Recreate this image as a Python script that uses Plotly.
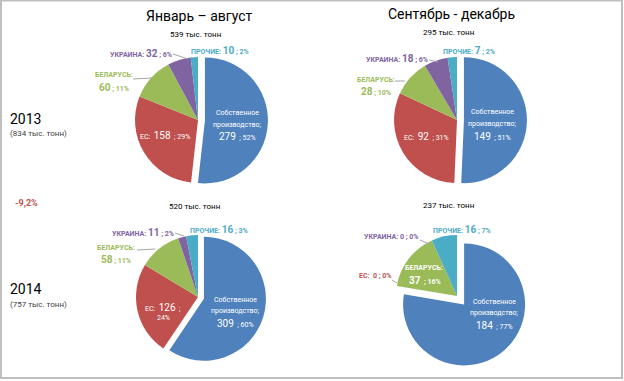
import plotly.graph_objects as go

# ---------------- data ----------------
categories = ["Собственное производство", "ЕС", "Беларусь", "Украина", "Прочие"]
label_names = ["Собственное производство;", "ЕС:", "БЕЛАРУСЬ:", "УКРАИНА:", "ПРОЧИЕ:"]
colors = ["#4F81BD", "#C0504D", "#9BBB59", "#8064A2", "#4BACC6"]

jan_aug_2013 = [279, 158, 60, 32, 10]
sep_dec_2013 = [149, 92, 28, 18, 7]
jan_aug_2014 = [309, 126, 58, 11, 16]
sep_dec_2014 = [184, 0, 37, 0, 16]

pct_jan_aug_2013 = [52, 29, 11, 6, 2]
pct_sep_dec_2013 = [51, 31, 10, 6, 2]
pct_jan_aug_2014 = [60, 24, 11, 2, 3]
pct_sep_dec_2014 = [77, 0, 16, 0, 7]

period_titles = ["Январь – август", "Сентябрь - декабрь"]
totals = [539, 295, 520, 237]
years = ["2013", "2014"]
year_totals = [834, 757]
change_label = "-9,2%"

# ---------------- layout helpers ----------------
W, H = 624, 381
FONT = "Roboto, 'Noto Sans', sans-serif"


def X(x):
    return x / W


def Y(y):
    return 1 - y / H


series = [jan_aug_2013, sep_dec_2013, jan_aug_2014, sep_dec_2014]
pcts = [pct_jan_aug_2013, pct_sep_dec_2013, pct_jan_aug_2014, pct_sep_dec_2014]
# pie geometry (pixel centre, radius, pull of first slice)
geom = [(198, 120, 63, 0.11), (457, 120, 63, 0.11), (198, 297, 62, 0.10), (457, 296, 61, 0.18)]

fig = go.Figure()
for vals, (cx, cy, r, p) in zip(series, geom):
    h = r * (1 + p)
    fig.add_trace(go.Pie(
        labels=categories, values=vals, sort=False, direction="clockwise",
        rotation=0, pull=[p, 0, 0, 0, 0], textinfo="none", hoverinfo="label+value+percent",
        marker=dict(colors=colors, line=dict(width=0)), showlegend=False,
        domain=dict(x=[X(cx - h), X(cx + h)], y=[Y(cy + h), Y(cy - h)]),
    ))

ann = []


def add(x, y, text, size=7, color="#404040", bold=False, xanchor="center"):
    if bold:
        text = "<b>" + text + "</b>"
    ann.append(dict(x=X(x), y=Y(y), xref="paper", yref="paper", text=text, showarrow=False,
                    xanchor=xanchor, yanchor="middle", font=dict(family=FONT, size=size, color=color)))


def big(v, size=10):
    return "<span style='font-size:%dpx'>%s</span>" % (size, v)


# titles
add(199, 16, period_titles[0], size=14, color="#000000")
add(451, 14, period_titles[1], size=14, color="#000000")
tot_pos = [(195, 34), (448, 33), (194, 206), (448, 205)]
for t, (x, y) in zip(totals, tot_pos):
    add(x, y, "%d тыс. тонн" % t, size=8, color="#000000")

# years on the left
add(8, 119, years[0], size=14, color="#000000", xanchor="left")
add(8, 133, "(%d тыс. тонн)" % year_totals[0], size=8, color="#404040", xanchor="left")
add(13, 203, change_label, size=9, color="#C0504D", bold=True, xanchor="left")
add(8, 289, years[1], size=14, color="#000000", xanchor="left")
add(8, 304, "(%d тыс. тонн)" % year_totals[1], size=8, color="#404040", xanchor="left")

# label positions per pie: blue (3 lines), red, belarus, ukraine, prochie
blue_pos = [(237, 113, 125, 137), (492, 112, 124, 136), (235, 300, 311, 323), (494, 302, 313, 325)]
for i, (x, y1, y2, y3) in enumerate(blue_pos):
    v, pc = series[i][0], pcts[i][0]
    add(x, y1, "Собственное", color="white")
    add(x, y2, "производство;", color="white")
    add(x, y3, big(v) + "&nbsp;&nbsp;; %d%%" % pc, color="white")

# red (EC)
for i, (x, y) in enumerate([(165, 135), (426, 136)]):
    add(x, y, "ЕС:&nbsp;&nbsp;" + big(series[i][1]) + "&nbsp;&nbsp;; %d%%" % pcts[i][1], color="white")
add(163, 307, "ЕС:&nbsp;&nbsp;" + big(series[2][1]) + "&nbsp;&nbsp;;", color="white")
add(163, 318, "%d%%" % pcts[2][1], color="white")
add(375, 276, "ЕС:&nbsp;&nbsp;%d ; %d%%" % (series[3][1], pcts[3][1]), color=colors[1], bold=True)

# belarus
bel_pos = [(114, 75, 87), (376, 80, 91), (116, 248, 259)]
for i, (x, y1, y2) in enumerate(bel_pos):
    add(x, y1, "БЕЛАРУСЬ:", color=colors[2], bold=True)
    add(x, y2, "<b>" + big(series[i][2]) + " ; %d%%</b>" % pcts[i][2], color=colors[2])
add(424, 268, "БЕЛАРУСЬ:", color="white", bold=True)
add(425, 280, "<b>" + big(series[3][2]) + "&nbsp;&nbsp;; %d%%</b>" % pcts[3][2], color="white")

# ukraine
ukr_pos = [(141, 53), (397, 58), (143, 232), (391, 237)]
for i, (x, y) in enumerate(ukr_pos):
    v = series[i][3]
    vt = big(v) if v else str(v)
    add(x, y, "<b>УКРАИНА: " + vt + " ; %d%%</b>" % pcts[i][3], color=colors[3])

# prochie
pro_pos = [(220, 50), (469, 51), (219, 229), (462, 229)]
for i, (x, y) in enumerate(pro_pos):
    add(x, y, "<b>ПРОЧИЕ: " + big(series[i][4]) + " ; %d%%</b>" % pcts[i][4], color=colors[4])

# leader lines and frame
shapes = []
for (x0, y0, x1, y1) in [(133, 79, 152, 78), (173, 54, 188, 59), (395, 81, 405, 81), (429, 60, 438, 62),
                         (137, 250, 155, 249), (175, 233, 184, 236), (420, 240, 432, 245), (392, 280, 397, 283)]:
    shapes.append(dict(type="line", xref="paper", yref="paper", x0=X(x0), y0=Y(y0), x1=X(x1), y1=Y(y1),
                       line=dict(color="#A6A6A6", width=1)))
shapes.append(dict(type="rect", xref="paper", yref="paper", x0=X(1), y0=Y(378), x1=X(622), y1=Y(0.5),
                   line=dict(color="#BFBFBF", width=2), fillcolor="rgba(0,0,0,0)"))

fig.update_layout(
    width=W, height=H, margin=dict(l=0, r=0, t=0, b=0),
    paper_bgcolor="white", plot_bgcolor="white",
    annotations=ann, shapes=shapes, font=dict(family=FONT),
)
fig.write_html("out.html", config={"displayModeBar": False},
               post_script="document.body.style.margin='0';")
